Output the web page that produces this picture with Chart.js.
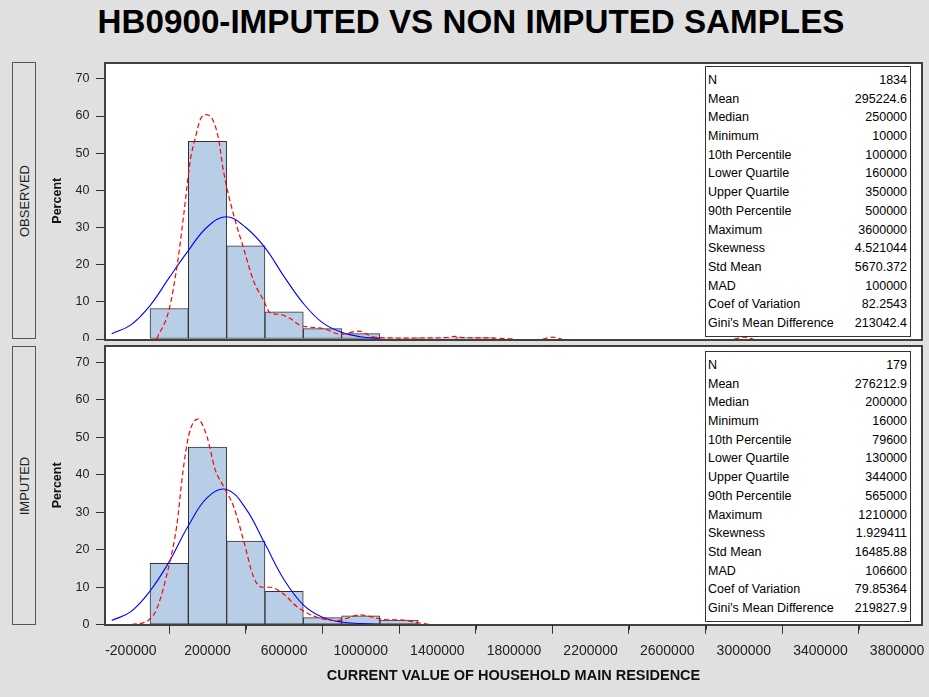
<!DOCTYPE html>
<html>
<head>
<meta charset="utf-8">
<title>HB0900 imputed vs non imputed</title>
<script src="https://cdn.jsdelivr.net/npm/chart.js@4.4.1/dist/chart.umd.min.js"></script>
<style>
body { margin: 0; background: #e0e0e0; font-family: 'Liberation Sans', Arial, sans-serif; }
#page { position: relative; width: 929px; height: 697px; overflow: hidden; }
#title { position: absolute; left: 0; top: 5px; width: 942px; text-align: center; font-size: 33.2px; line-height: 33px; font-weight: bold; color: #000; }
.side { position: absolute; left: 12px; width: 24px; box-sizing: border-box; border: 1px solid #555; }
.side span { position: absolute; left: 50%; top: 50%; transform: translate(-50%, -50%) rotate(-90deg); white-space: nowrap; font-size: 13px; color: #222; }
canvas { position: absolute; left: 40px; }
.stats { position: absolute; left: 705px; width: 206px; box-sizing: border-box; border: 1px solid #333; background: #fff; padding: 4px 0 3px 0; font-size: 12.5px; color: #000; }
.stats .row { height: 18.7px; line-height: 18.7px; display: flex; justify-content: space-between; padding: 0 3px 0 2px; white-space: nowrap; }
</style>
</head>
<body>
<div id="page">
  <div id="title">HB0900-IMPUTED VS NON IMPUTED SAMPLES</div>
  <div class="side" style="top:62px;height:277px"><span>OBSERVED</span></div>
  <div class="side" style="top:346px;height:279px"><span>IMPUTED</span></div>
  <canvas id="observedChart" width="889" height="286" style="top:55px"></canvas>
  <canvas id="imputedChart" width="889" height="356" style="top:341px"></canvas>
  <div class="stats" id="observedStats" style="top:66px"></div>
  <div class="stats" id="imputedStats" style="top:351px"></div>
</div>
<script>
// histogram bins (bin width 200000)
var binCenters = [0, 200000, 400000, 600000, 800000, 1000000, 1200000, 1400000, 1600000];
var observedPercent = [8.2, 53.2, 25.1, 7.3, 2.8, 1.45, 0.3, 0.3, 0.35];
var imputedPercent = [16.4, 47.4, 22.3, 8.9, 1.9, 2.4, 1.2];

// normal curve
var normalX = [-300000, -200000, -100000, 0, 100000, 200000, 300000, 400000, 500000, 600000, 700000, 800000, 900000, 1000000, 1100000];
var observedNormal = [1.4, 3.8, 9.0, 16.5, 23.8, 30.2, 32.9, 30.0, 24.6, 16.8, 9.6, 4.4, 1.8, 0.6, 0.2];
var imputedNormal = [1.1, 3.5, 9.0, 16.8, 26.4, 34.0, 36.1, 31.0, 21.6, 12.0, 5.3, 2.0, 0.7, 0.3, 0.1];

// kernel density curves (null = nothing visible above the axis)
var observedKernelX = [-65000, 0, 45000, 75000, 110000, 136000, 162000, 193000, 231000, 257000, 284000, 336000, 388000, 440000, 493000, 527000, 580000, 632000, 684000, 806000, 893000, 990000, 1070000, 1150000, 1250000, 1350000, 1450000, 1490000, 1540000, 1650000, 1750000, 1800000, 1900000, 1950000, 2000000, 2050000, 2500000, 2950000, 3000000, 3050000];
var observedKernel = [0, 8, 21, 33, 48, 54, 59, 60.4, 58.6, 54, 45, 33.5, 24.5, 15.7, 10.4, 7, 6.6, 5.5, 3.7, 2.8, 1.3, 2.1, 0.5, 0.3, 0.25, 0.3, 0.4, 0.7, 0.35, 0.3, 0.1, 0, null, 0, 0.5, 0, null, 0, 0.5, 0];
var imputedKernelX = [-195000, -108000, -64000, 0, 40000, 71000, 101000, 148000, 197000, 240000, 284000, 336000, 388000, 440000, 484000, 527000, 597000, 667000, 771000, 876000, 997000, 1120000, 1220000, 1300000, 1370000];
var imputedKernel = [0, 1.2, 4.3, 16, 26.6, 40.5, 50.3, 54.9, 50.3, 41.4, 36.9, 31.6, 22.6, 12.8, 10, 10, 8.2, 4.8, 2, 1.1, 2.6, 1.4, 1.2, 0.5, 0];

// axes
var xTickValues = [-200000, 200000, 600000, 1000000, 1400000, 1800000, 2200000, 2600000, 3000000, 3400000, 3800000];
var xMinorTickValues = [0, 400000, 800000, 1200000, 1600000, 2000000, 2400000, 2800000, 3200000, 3600000];
var yTickValues = [0, 10, 20, 30, 40, 50, 60, 70];
var xMin = -335000;
var xMax = 3930000;
var yMax = 74.4;

// summary statistics
var statLabels = ['N', 'Mean', 'Median', 'Minimum', '10th Percentile', 'Lower Quartile', 'Upper Quartile', '90th Percentile', 'Maximum', 'Skewness', 'Std Mean', 'MAD', 'Coef of Variation', "Gini's Mean Difference"];
var observedStats = ['1834', '295224.6', '250000', '10000', '100000', '160000', '350000', '500000', '3600000', '4.521044', '5670.372', '100000', '82.2543', '213042.4'];
var imputedStats = ['179', '276212.9', '200000', '16000', '79600', '130000', '344000', '565000', '1210000', '1.929411', '16485.88', '106600', '79.85364', '219827.9'];

Chart.defaults.font.family = "'Liberation Sans', Arial, sans-serif";

function toPoints(xs, ys) {
    var pts = [];
    for (let i = 0; i < ys.length; i++) {
        pts.push({x: xs[i], y: ys[i]});
    }
    return pts;
}

function fillStats(id, values) {
    var box = document.getElementById(id);
    for (let i = 0; i < statLabels.length; i++) {
        var row = document.createElement('div');
        row.className = 'row';
        var a = document.createElement('span');
        a.textContent = statLabels[i];
        var b = document.createElement('span');
        b.textContent = values[i];
        row.appendChild(a);
        row.appendChild(b);
        box.appendChild(row);
    }
}

var panelFrame = {
    id: 'panelFrame',
    beforeDraw: function(chart) {
        var a = chart.chartArea;
        var ctx = chart.ctx;
        ctx.save();
        ctx.fillStyle = '#ffffff';
        ctx.fillRect(a.left, a.top, a.right - a.left, a.bottom - a.top);
        ctx.restore();
    },
    afterDatasetsDraw: function(chart) {
        var a = chart.chartArea;
        var ctx = chart.ctx;
        ctx.save();
        ctx.strokeStyle = '#404040';
        ctx.lineWidth = 2;
        ctx.strokeRect(Math.round(a.left), Math.round(a.top), Math.round(a.right - a.left), Math.round(a.bottom - a.top));
        ctx.restore();
    },
    afterDraw: function(chart) {
        var xs = chart.scales.x;
        if (!xs.options.display) return;
        var ctx = chart.ctx;
        ctx.save();
        ctx.strokeStyle = '#333';
        ctx.lineWidth = 1;
        ctx.beginPath();
        for (let i = 0; i < xMinorTickValues.length; i++) {
            var px = Math.round(xs.getPixelForValue(xMinorTickValues[i])) + 0.5;
            ctx.moveTo(px, xs.top);
            ctx.lineTo(px, xs.top + 5);
        }
        ctx.stroke();
        ctx.restore();
    }
};

function buildPanel(canvasId, bars, normal, kernelX, kernel, showX) {
    var barPoints = toPoints(binCenters, bars);
    var ctx = document.getElementById(canvasId).getContext('2d');

    return new Chart(ctx, {
        type: 'bar',
        data: {
            datasets: [
                {
                    type: 'line',
                    label: 'Kernel',
                    data: toPoints(kernelX, kernel),
                    borderColor: '#ff0000',
                    borderWidth: 1.2,
                    borderDash: [5, 3],
                    pointRadius: 0,
                    cubicInterpolationMode: 'monotone',
                    spanGaps: false,
                    fill: false,
                    order: 0
                },
                {
                    type: 'line',
                    label: 'Normal',
                    data: toPoints(normalX, normal),
                    borderColor: '#0000ff',
                    borderWidth: 1.1,
                    pointRadius: 0,
                    tension: 0.4,
                    fill: false,
                    order: 1
                },
                {
                    type: 'bar',
                    label: 'Percent',
                    data: barPoints,
                    backgroundColor: '#b8cde6',
                    borderColor: '#333333',
                    borderWidth: 1,
                    borderSkipped: false,
                    barPercentage: 1,
                    categoryPercentage: 1,
                    grouped: false,
                    order: 2
                }
            ]
        },
        options: {
            responsive: false,
            animation: false,
            events: [],
            layout: {
                padding: showX ? {top: 5, right: 7, bottom: 0, left: 0} : {top: 7.5, right: 7, bottom: 2, left: 0}
            },
            plugins: {
                legend: {display: false},
                tooltip: {enabled: false}
            },
            scales: {
                x: {
                    type: 'linear',
                    display: showX,
                    min: xMin,
                    max: xMax,
                    offset: false,
                    afterBuildTicks: function(scale) {
                        scale.ticks = xTickValues.map(v => ({value: v}));
                    },
                    afterFit: function(scale) {
                        scale.height = scale.options.display ? 72.3 : 0;
                        scale.paddingLeft = 0;
                        scale.paddingRight = 0;
                    },
                    border: {display: false},
                    grid: {drawOnChartArea: false, tickLength: 9, tickColor: '#333'},
                    ticks: {
                        padding: 8.6,
                        color: '#222',
                        font: {size: 14},
                        maxRotation: 0,
                        autoSkip: false,
                        callback: function(value) { return String(value); }
                    },
                    title: {
                        display: true,
                        text: 'CURRENT VALUE OF HOUSEHOLD MAIN RESIDENCE',
                        color: '#111',
                        font: {size: 14.5, weight: 'bold'},
                        padding: {top: 0, bottom: 12.3}
                    }
                },
                y: {
                    min: 0,
                    max: yMax,
                    afterBuildTicks: function(scale) {
                        scale.ticks = yTickValues.map(v => ({value: v}));
                    },
                    afterFit: function(scale) {
                        scale.width = 65;
                        scale.paddingTop = 0;
                        scale.paddingBottom = 0;
                    },
                    border: {display: false},
                    grid: {drawOnChartArea: false, tickLength: 9, tickColor: '#333'},
                    ticks: {padding: 6.5, color: '#222', font: {size: 12.5}},
                    title: {
                        display: true,
                        text: 'Percent',
                        color: '#111',
                        font: {size: 12.5, weight: 'bold'},
                        padding: {top: 10, bottom: 0}
                    }
                }
            }
        },
        plugins: [panelFrame]
    });
}

buildPanel('observedChart', observedPercent, observedNormal, observedKernelX, observedKernel, false);
buildPanel('imputedChart', imputedPercent, imputedNormal, imputedKernelX, imputedKernel, true);
fillStats('observedStats', observedStats);
fillStats('imputedStats', imputedStats);
</script>
</body>
</html>
